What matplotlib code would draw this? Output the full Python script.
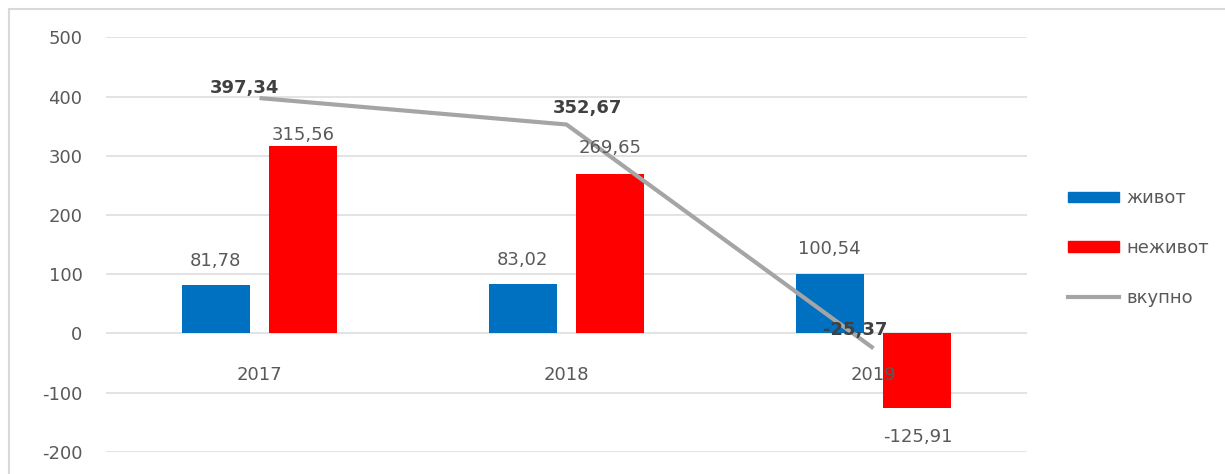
import numpy as np
import matplotlib
matplotlib.use("Agg")
from matplotlib import pyplot as plt
from matplotlib.patches import Rectangle
from matplotlib.lines import Line2D

plt.rcParams['font.family'] = ['DejaVu Sans']

years = ['2017', '2018', '2019']
zivot = [81.78, 83.02, 100.54]
nezivot = [315.56, 269.65, -125.91]
vkupno = [397.34, 352.67, -25.37]
yticks = [-200, -100, 0, 100, 200, 300, 400, 500]

# label offsets in points, placed by hand like the original
ziv_off = [17.3, 17.3, 18]
nez_off = [8, 18.2, -21]
tot_off = [(-11, 7), (15, 12), (-13, 13)]

txt = '#595959'
blue = '#0070C0'
red = '#FF0000'
grey = '#A5A5A5'

def fmt(v):
    return f'{v:.2f}'.replace('.', ',')

fig = plt.figure(figsize=(12.25, 4.74), dpi=100)
# chart frame
fig.patches.append(Rectangle((9/1225, -0.01), 1.1, 1 - 9/474 + 0.01, transform=fig.transFigure,
                             fill=False, edgecolor='#D9D9D9', linewidth=1.5))

ax = fig.add_axes([106/1225, 22.3/474, 921/1225, 414.4/474])
x = np.arange(len(years))
w = 0.221
off = 0.143

ax.bar(x - off, zivot, w, color=blue, zorder=2)
ax.bar(x + off, nezivot, w, color=red, zorder=2)
ax.plot(x, vkupno, color=grey, linewidth=3, zorder=3, solid_capstyle='butt')

for i in range(len(years)):
    ax.annotate(fmt(zivot[i]), (x[i] - off, zivot[i]), xytext=(0, ziv_off[i]), textcoords='offset points',
                ha='center', va='center', fontsize=13, color=txt, zorder=4)
    ax.annotate(fmt(nezivot[i]), (x[i] + off, nezivot[i]), xytext=(0, nez_off[i]), textcoords='offset points',
                ha='center', va='center', fontsize=13, color=txt, zorder=4)
    ax.annotate(fmt(vkupno[i]), (x[i], vkupno[i]), xytext=tot_off[i], textcoords='offset points',
                ha='center', va='center', fontsize=13, fontweight='bold', color='#404040', zorder=5)
    # category labels sit just under the zero line
    ax.annotate(years[i], (x[i], 0), xytext=(0, -30), textcoords='offset points',
                ha='center', va='center', fontsize=13, color=txt, zorder=4)

ax.set_xlim(-0.5, 2.5)
ax.set_ylim(-200, 500)
ax.set_yticks(yticks)
ax.set_yticklabels([str(t) for t in yticks], fontsize=13, color=txt)
ax.set_xticks([])
ax.tick_params(axis='y', length=0, pad=17)
ax.grid(axis='y', color='#DEDEDE', linewidth=1.2, zorder=0)
for s in ax.spines.values():
    s.set_visible(False)

handles = [Rectangle((0, 0), 1, 1, color=blue),
           Rectangle((0, 0), 1, 1, color=red),
           Line2D([0], [0], color=grey, linewidth=3)]
fig.legend(handles, ['живот', 'неживот', 'вкупно'], loc='center left',
           bbox_to_anchor=(1052/1225, 1 - 248/474), frameon=False, fontsize=13,
           labelcolor=txt, handlelength=2.8, handleheight=0.55, labelspacing=1.75,
           handletextpad=0.4)

fig.savefig('out.png', dpi=100)
